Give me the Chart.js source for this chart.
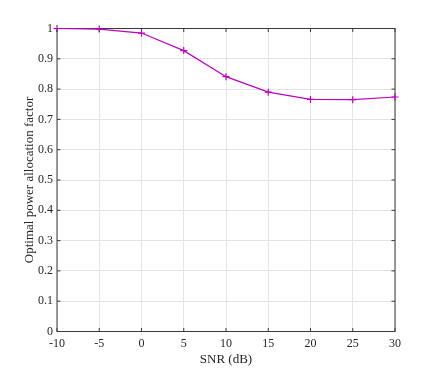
<!DOCTYPE html>
<html>
<head>
<meta charset="utf-8">
<script src="https://cdn.jsdelivr.net/npm/chart.js@4/dist/chart.umd.min.js"></script>
<style>
  html, body { margin: 0; padding: 0; background: #fff; }
  #wrap { width: 436px; height: 373px; }
</style>
</head>
<body>
<div id="wrap"><canvas id="chart" width="436" height="373"></canvas></div>
<script>
// SNR values (dB) and the optimal power allocation factor
const snrDb = [-10, -5, 0, 5, 10, 15, 20, 25, 30];
const allocFactor = [1.0, 0.998, 0.985, 0.927, 0.841, 0.790, 0.766, 0.765, 0.774];

// tick values on both axes
const xTickValues = [-10, -5, 0, 5, 10, 15, 20, 25, 30];
const yTickValues = [0, 0.1, 0.2, 0.3, 0.4, 0.5, 0.6, 0.7, 0.8, 0.9, 1];

const axisColor = '#262626';
const gridColor = '#e4e4e4';
const serif = "'Liberation Serif', 'Times New Roman', serif";

// MATLAB-like box with inward tick marks on all four sides
const boxPlugin = {
  id: 'matlabBox',
  beforeDatasetsDraw(chart) {
    const { ctx, chartArea: a, scales } = chart;
    const len = 3.5;
    ctx.save();
    ctx.strokeStyle = '#3a3a3a';
    ctx.lineWidth = 1;
    ctx.beginPath();
    xTickValues.forEach(v => {
      const px = scales.x.getPixelForValue(v);
      ctx.moveTo(px, a.bottom); ctx.lineTo(px, a.bottom - len);
      ctx.moveTo(px, a.top); ctx.lineTo(px, a.top + len);
    });
    yTickValues.forEach(v => {
      const py = scales.y.getPixelForValue(v);
      ctx.moveTo(a.left, py); ctx.lineTo(a.left + len, py);
      ctx.moveTo(a.right, py); ctx.lineTo(a.right - len, py);
    });
    ctx.stroke();
    ctx.strokeRect(a.left, a.top, a.right - a.left, a.bottom - a.top);
    ctx.restore();
  }
};

new Chart(document.getElementById('chart').getContext('2d'), {
  type: 'line',
  data: {
    datasets: [{
      data: snrDb.map((x, i) => ({ x: x, y: allocFactor[i] })),
      borderColor: '#bf00bf',
      backgroundColor: '#bf00bf',
      borderWidth: 1.2,
      pointStyle: 'cross',
      pointRadius: 3.5,
      pointBorderWidth: 1.2,
      pointHoverRadius: 3.5,
      tension: 0,
      fill: false,
      clip: false
    }]
  },
  options: {
    responsive: false,
    animation: false,
    events: [],
    layout: { padding: { left: 0, right: 41, top: 28.5, bottom: 0 } },
    plugins: {
      legend: { display: false },
      tooltip: { enabled: false }
    },
    scales: {
      x: {
        type: 'linear',
        min: -10,
        max: 30,
        afterBuildTicks: s => { s.ticks = xTickValues.map(v => ({ value: v })); },
        afterFit: s => { s.height = 41.5; },
        grid: { color: gridColor, drawTicks: false },
        border: { display: false },
        ticks: {
          padding: 5,
          color: axisColor,
          font: { family: serif, size: 12 },
          maxRotation: 0,
          callback: v => String(v)
        },
        title: {
          display: true,
          text: 'SNR (dB)',
          color: axisColor,
          font: { family: serif, size: 13 },
          padding: { top: 0, bottom: 6 }
        }
      },
      y: {
        type: 'linear',
        min: 0,
        max: 1,
        afterBuildTicks: s => { s.ticks = yTickValues.map(v => ({ value: v })); },
        afterFit: s => { s.width = 57; },
        grid: { color: gridColor, drawTicks: false },
        border: { display: false },
        ticks: {
          padding: 4,
          color: axisColor,
          font: { family: serif, size: 12 },
          callback: v => String(Math.round(v * 10) / 10)
        },
        title: {
          display: true,
          text: 'Optimal power allocation factor',
          color: axisColor,
          font: { family: serif, size: 13 },
          padding: { top: 21.5, bottom: 0 }
        }
      }
    }
  },
  plugins: [boxPlugin]
});
</script>
</body>
</html>
